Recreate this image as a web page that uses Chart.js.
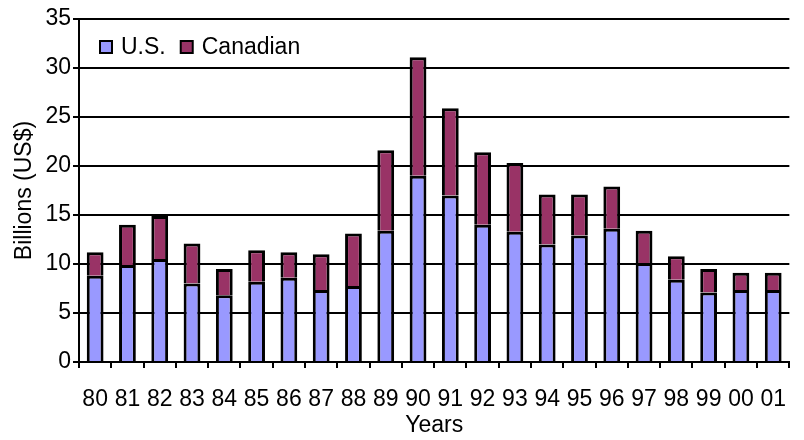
<!DOCTYPE html>
<html>
<head>
<meta charset="utf-8">
<script src="https://cdn.jsdelivr.net/npm/chart.js@4/dist/chart.umd.min.js"></script>
<style>
  html, body { margin: 0; padding: 0; background: #fff; }
  #wrap { width: 804px; height: 440px; }
</style>
</head>
<body>
<div id="wrap"><canvas id="c" width="804" height="440"></canvas></div>
<script>
// Annual financing, billions of US dollars
const years = ['80','81','82','83','84','85','86','87','88','89','90','91','92','93','94','95','96','97','98','99','00','01'];
const usValues = [8.8, 9.9, 10.5, 8.0, 6.8, 8.2, 8.6, 7.35, 7.75, 13.4, 19.0, 17.0, 14.0, 13.3, 12.0, 12.9, 13.6, 10.1, 8.4, 7.1, 7.35, 7.35];
const canadianValues = [2.4, 4.1, 4.4, 4.1, 2.7, 3.2, 2.6, 3.65, 5.35, 8.2, 12.1, 8.9, 7.4, 7.0, 5.1, 4.2, 4.3, 3.3, 2.4, 2.4, 1.75, 1.75];
const yTicks = [0, 5, 10, 15, 20, 25, 30, 35];

const FONT = 'Liberation Sans, Arial, sans-serif';
const SIZE = 23;

// Legend drawn inside the plot area, top-left
const innerLegend = {
  id: 'innerLegend',
  afterDraw(chart) {
    const ctx = chart.ctx;
    const area = chart.chartArea;
    let x = area.left + 21;
    const y = area.top + 28;
    ctx.save();
    ctx.font = SIZE + 'px ' + FONT;
    ctx.textBaseline = 'middle';
    chart.data.datasets.forEach(ds => {
      ctx.fillStyle = ds.backgroundColor;
      ctx.fillRect(x, y - 6, 12, 12);
      ctx.strokeStyle = '#000';
      ctx.lineWidth = 2;
      ctx.strokeRect(x, y - 6, 12, 12);
      ctx.fillStyle = '#000';
      ctx.fillText(ds.label, x + 21, y + 1);
      x += 21 + ctx.measureText(ds.label).width + 15;
    });
    ctx.restore();
  }
};

new Chart(document.getElementById('c'), {
  type: 'bar',
  data: {
    labels: years,
    datasets: [
      { label: 'U.S.', data: usValues, backgroundColor: '#9999ff', borderColor: '#000', borderWidth: 3 },
      { label: 'Canadian', data: canadianValues, backgroundColor: '#993366', borderColor: '#000', borderWidth: 3 }
    ]
  },
  options: {
    responsive: false,
    animation: false,
    devicePixelRatio: 1,
    layout: { padding: { top: 19, right: 0, left: 0, bottom: 0 } },
    categoryPercentage: 1,
    barPercentage: 0.52,
    plugins: { legend: { display: false }, tooltip: { enabled: false } },
    scales: {
      x: {
        stacked: true,
        grid: { offset: true, drawOnChartArea: false, drawTicks: true, tickLength: 6, color: '#000', lineWidth: 2 },
        border: { display: true, color: '#000', width: 2 },
        ticks: { color: '#000', font: { family: FONT, size: SIZE }, padding: 18, maxRotation: 0, autoSkip: false },
        title: { display: true, text: 'Years', color: '#000', font: { family: FONT, size: SIZE }, padding: { top: 0, bottom: 1 } },
        afterFit(scale) { scale.height = 440 - 362; }
      },
      y: {
        stacked: true,
        min: 0,
        max: 35,
        afterBuildTicks(scale) { scale.ticks = yTicks.map(v => ({ value: v })); },
        grid: { color: '#000', lineWidth: 2, tickLength: 6 },
        border: { display: true, color: '#000', width: 2 },
        ticks: { color: '#000', font: { family: FONT, size: SIZE }, padding: 2 },
        title: { display: true, text: 'Billions (US$)', color: '#000', font: { family: FONT, size: SIZE }, padding: { top: 11, bottom: 0 } },
        afterFit(scale) { scale.width = 79; }
      }
    }
  },
  plugins: [innerLegend]
});
</script>
</body>
</html>
